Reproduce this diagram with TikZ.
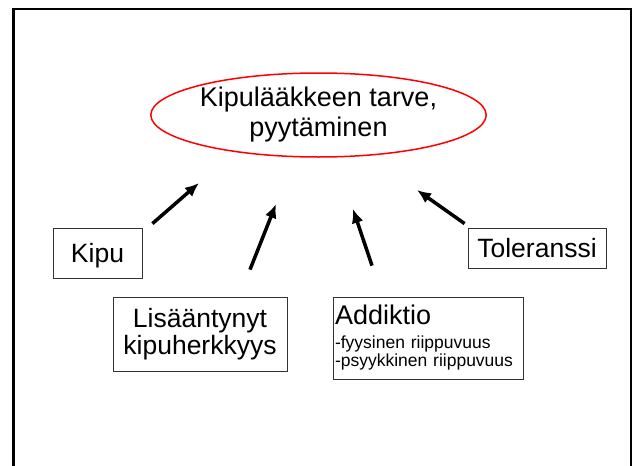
\documentclass[tikz,border=0pt]{standalone}
\usepackage{fontspec}
\setmainfont{Liberation Sans}
\usetikzlibrary{arrows.meta,shapes.geometric}

\tikzset{
  box/.style={draw=black!80, line width=0.8pt, inner sep=0pt, font=\fontsize{26.5}{27}\selectfont},
  arr/.style={-{Latex[length=14pt,width=12pt]}, line width=3.5pt},
}

\begin{document}
\begin{tikzpicture}[x=1pt, y=-1pt]
\useasboundingbox (0,0) rectangle (633,466);
\draw[line width=2.5pt] (13.5,480) |- (631,9) -- (631,480);

\node[ellipse, draw=red, line width=1.5pt, minimum width=333pt, minimum height=84pt, inner sep=0pt, align=center, font=\fontsize{27}{30}\selectfont] (goal) at (318.5,115) {Kipulääkkeen tarve,\\pyytäminen};
\node[box, minimum width=89pt, minimum height=50pt, text depth=0pt] (kipu) at (97.5,253) {Kipu};
\node[box, minimum width=138pt, minimum height=40pt] (tol) at (537,248) {Toleranssi};
\node[box, minimum width=174pt, minimum height=74pt, align=center] (lisa) at (200,334) {Lisääntynyt\\kipuherkkyys};
\node[box, minimum height=82pt, text width=186pt, inner xsep=2pt, align=left, font=\fontsize{17.5}{18}\selectfont] (add) at (428,338) {{\fontsize{27}{30}\selectfont Addiktio}\\[6pt]-fyysinen riippuvuus\\-psyykkinen riippuvuus};

\coordinate (kipu-end) at (199,183);
\coordinate (lisa-end) at (276,204);
\coordinate (add-end) at (353,209);
\coordinate (tol-end) at (417,190);

\draw[arr] ([shift={(10,-4)}]kipu.north east) -- (kipu-end);
\draw[arr] ([shift={(50,-27)}]lisa.north) -- (lisa-end);
\draw[arr] ([shift={(-56,-31)}]add.north) -- (add-end);
\draw[arr] ([shift={(-3,-4)}]tol.north west) -- (tol-end);
\end{tikzpicture}
\end{document}
